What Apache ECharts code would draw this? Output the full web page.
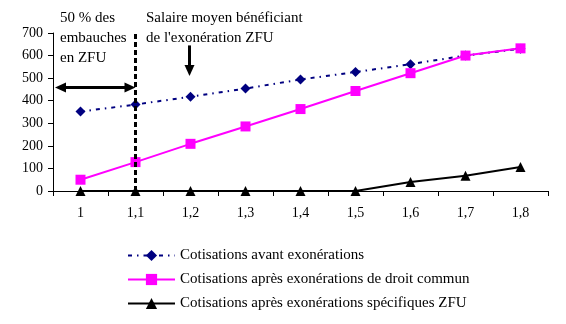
<!DOCTYPE html>
<html><head><meta charset="utf-8">
<script src="https://cdn.jsdelivr.net/npm/echarts@6/dist/echarts.min.js"></script>
<style>html,body{margin:0;padding:0;background:#fff}#c{width:566px;height:324px}</style>
</head><body><div id="c"></div>
<script>
const categories = ['1','1,1','1,2','1,3','1,4','1,5','1,6','1,7','1,8'];
const avant = [352, 383, 418, 454, 494, 527, 562, 600, 630];
const droitCommun = [50, 128, 209, 286, 363, 443, 522, 600, 632];
const specifiques = [0, 0, 0, 0, 0, 0, 40, 68, 106];
const seriesNames = ['Cotisations avant exonérations','Cotisations après exonérations de droit commun','Cotisations après exonérations spécifiques ZFU'];
const yTicks = {min:0, max:700, interval:100};
const FONT = '"Liberation Serif","DejaVu Serif",serif';

const chart = echarts.init(document.getElementById('c'), null, {renderer:'canvas'});
chart.setOption({
  animation:false,
  backgroundColor:'#fff',
  grid:{left:53,right:18,top:33,bottom:133,containLabel:false},
  xAxis:{type:'category',data:categories,boundaryGap:true,
    axisLine:{lineStyle:{color:'#000',width:1}},
    axisTick:{show:true,alignWithLabel:false,length:5,lineStyle:{color:'#000'}},
    axisLabel:{color:'#000',fontFamily:FONT,fontSize:14,margin:15}},
  yAxis:{type:'value',min:yTicks.min,max:yTicks.max,interval:yTicks.interval,
    axisLine:{show:true,lineStyle:{color:'#000'}},
    axisTick:{show:true,length:5,lineStyle:{color:'#000'}},
    splitLine:{show:false},
    axisLabel:{color:'#000',fontFamily:FONT,fontSize:14,margin:10}},
  legend:{orient:'vertical',left:122,top:243,itemWidth:47,itemHeight:14,itemGap:9,itemGap:9,
    textStyle:{fontFamily:FONT,fontSize:15,color:'#000'},
    data:seriesNames},
  series:[
    {name:seriesNames[0],type:'line',data:avant,symbol:'diamond',symbolSize:10,
      lineStyle:{color:'#000080',width:2,type:[4,5,1.5,5]},itemStyle:{color:'#000080'}},
    {name:seriesNames[1],type:'line',data:droitCommun,symbol:'rect',symbolSize:10,
      lineStyle:{color:'#ff00ff',width:2},itemStyle:{color:'#ff00ff'},
      markLine:{silent:true,symbol:'none',label:{show:false},
        lineStyle:{color:'#000',width:3,type:[5,3]},
        data:[[{coord:['1,1',0]},{coord:['1,1',700]}]]}},
    {name:seriesNames[2],type:'line',data:specifiques,symbol:'triangle',symbolSize:10,
      lineStyle:{color:'#000',width:2},itemStyle:{color:'#000'}}
  ]
});

// annotations positioned via the chart's own scales
const p11 = chart.convertToPixel({xAxisIndex:0,yAxisIndex:0},['1,1',458]);
const p12 = chart.convertToPixel({xAxisIndex:0,yAxisIndex:0},['1,2',645]);
const p12b = chart.convertToPixel({xAxisIndex:0,yAxisIndex:0},['1,2',510]);
const leftX = 55;
const ay = p11[1];
const bx = p12[0] - 1;
chart.setOption({graphic:[
  {type:'line',shape:{x1:leftX+8,y1:ay,x2:p11[0]-8,y2:ay},style:{stroke:'#000',lineWidth:3}},
  {type:'polygon',shape:{points:[[leftX,ay],[leftX+11,ay-5],[leftX+11,ay+5]]},style:{fill:'#000'}},
  {type:'polygon',shape:{points:[[p11[0],ay],[p11[0]-11,ay-5],[p11[0]-11,ay+5]]},style:{fill:'#000'}},
  {type:'line',shape:{x1:bx,y1:p12[1],x2:bx,y2:p12b[1]-8},style:{stroke:'#000',lineWidth:3}},
  {type:'polygon',shape:{points:[[bx,p12b[1]],[bx-5,p12b[1]-11],[bx+5,p12b[1]-11]]},style:{fill:'#000'}},
  {type:'text',left:60,top:8,style:{text:'50 % des\nembauches\nen ZFU',font:'15px '+FONT,fill:'#000',lineHeight:20}},
  {type:'text',left:146,top:8,style:{text:'Salaire moyen bénéficiant\nde l\'exonération ZFU',font:'15px '+FONT,fill:'#000',lineHeight:20}}
]});
</script></body></html>
